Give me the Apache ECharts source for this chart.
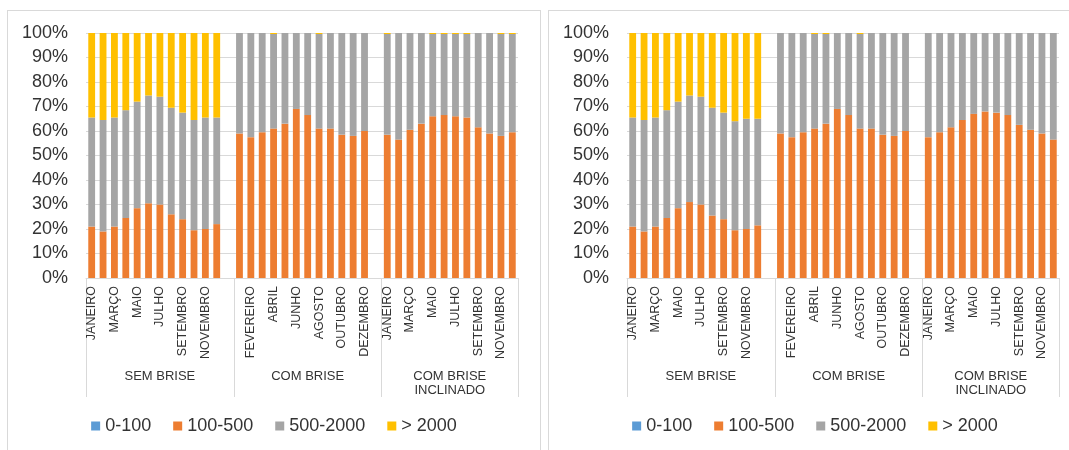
<!DOCTYPE html>
<html>
<head>
<meta charset="utf-8">
<script src="https://cdn.jsdelivr.net/npm/echarts@6/dist/echarts.min.js"></script>
<style>
  html, body { margin: 0; padding: 0; background: #ffffff; width: 1069px; height: 450px; overflow: hidden; }
  .panel { position: absolute; top: 10px; width: 534px; height: 450px; box-sizing: border-box; border: 1px solid #d9d9d9; background: #fff; }
  .chart { position: absolute; left: 0; top: 0; width: 532px; height: 448px; }
</style>
</head>
<body>
<div class="panel" style="left:7px"><div id="c1" class="chart"></div></div>
<div class="panel" style="left:548px"><div id="c2" class="chart"></div></div>
<script>
// ---- Data ----
const months = ["JANEIRO","FEVEREIRO","MARÇO","ABRIL","MAIO","JUNHO","JULHO","AGOSTO","SETEMBRO","OUTUBRO","NOVEMBRO","DEZEMBRO"];
const groups = ["SEM BRISE", "COM BRISE", "COM BRISE\nINCLINADO"];
const seriesNames = ["0-100", "100-500", "500-2000", "> 2000"];
const yTicks = [0, 10, 20, 30, 40, 50, 60, 70, 80, 90, 100];

// Left chart
const L_semBrise_0_100    = [0,0,0,0,0,0,0,0,0,0,0,0];
const L_semBrise_100_500  = [21, 19, 21, 24.5, 28.5, 30.5, 30, 26, 24, 19.5, 20, 22];
const L_semBrise_500_2000 = [44.5, 45.5, 44.5, 44, 43.5, 44, 44, 43.5, 43.5, 45, 45.5, 43.5];
const L_semBrise_2000     = [34.5, 35.5, 34.5, 31.5, 28, 25.5, 26, 30.5, 32.5, 35.5, 34.5, 34.5];

const L_comBrise_0_100    = [0,0,0,0,0,0,0,0,0,0,0,0];
const L_comBrise_100_500  = [59, 57.5, 59.5, 61, 63, 69, 66.5, 61, 61, 58.5, 58, 60];
const L_comBrise_500_2000 = [41, 42.5, 40.5, 38.6, 37, 31, 33.5, 38.6, 39, 41.5, 42, 40];
const L_comBrise_2000     = [0, 0, 0, 0.4, 0, 0, 0, 0.4, 0, 0, 0, 0];

const L_inclinado_0_100    = [0,0,0,0,0,0,0,0,0,0,0,0];
const L_inclinado_100_500  = [58.5, 56.5, 60.5, 63, 66, 66.5, 66, 65.5, 61.5, 59, 58, 59.5];
const L_inclinado_500_2000 = [41.1, 43.5, 39.5, 37, 33.6, 33.1, 33.6, 34.1, 38.5, 41, 41.6, 40.1];
const L_inclinado_2000     = [0.4, 0, 0, 0, 0.4, 0.4, 0.4, 0.4, 0, 0, 0.4, 0.4];

// Right chart
const R_semBrise_0_100    = [0,0,0,0,0,0,0,0,0,0,0,0];
const R_semBrise_100_500  = [21, 19, 21, 24.5, 28.5, 31, 30, 25.5, 24, 19.5, 20, 21.5];
const R_semBrise_500_2000 = [44.5, 45.5, 44.5, 44, 43.5, 43.5, 44, 44, 43.5, 44.5, 45, 43.5];
const R_semBrise_2000     = [34.5, 35.5, 34.5, 31.5, 28, 25.5, 26, 30.5, 32.5, 36, 35, 35];

const R_comBrise_0_100    = [0,0,0,0,0,0,0,0,0,0,0,0];
const R_comBrise_100_500  = [59, 57.5, 59.5, 61, 63, 69, 66.5, 61, 61, 58.5, 58, 60];
const R_comBrise_500_2000 = [41, 42.5, 40.5, 38.6, 36.6, 31, 33.5, 38.6, 39, 41.5, 42, 40];
const R_comBrise_2000     = [0, 0, 0, 0.4, 0.4, 0, 0, 0.4, 0, 0, 0, 0];

const R_inclinado_0_100    = [0,0,0,0,0,0,0,0,0,0,0,0];
const R_inclinado_100_500  = [57.5, 59.5, 61.5, 64.5, 67, 68, 67.5, 66.5, 62.5, 60.5, 59, 56.5];
const R_inclinado_500_2000 = [42.5, 40.5, 38.5, 35.5, 33, 32, 32.5, 33.5, 37.5, 39.5, 41, 43.5];
const R_inclinado_2000     = [0, 0, 0, 0, 0, 0, 0, 0, 0, 0, 0, 0];

const colors = ["#5B9BD5", "#ED7D31", "#A5A5A5", "#FFC000"];
const FONT = "'Liberation Sans', Arial, sans-serif";

// 38 categories: 12 months + blank + 12 months + blank + 12 months
const categories = [].concat(months, [""], months, [""], months);
function joinGroups(a, b, c) { return [].concat(a, [null], b, [null], c); }

// secondary (group) axis: 77 boundary points
const groupAxisData = [];
for (let k = 0; k <= 76; k++) groupAxisData.push("");
groupAxisData[13] = groups[0];
groupAxisData[39] = groups[1];
groupAxisData[64] = groups[2];
const groupTickIdx = [0, 26, 52, 76];

function build(el, d) {
  const chart = echarts.init(document.getElementById(el), null, { renderer: 'canvas' });
  const series = seriesNames.map((name, i) => ({
    name: name,
    type: 'bar',
    stack: 'total',
    barWidth: '60%',
    itemStyle: { color: colors[i] },
    emphasis: { disabled: true },
    data: d[i]
  }));
  chart.setOption({
    animation: false,
    textStyle: { fontFamily: FONT },
    grid: { left: 78, top: 22, width: 432, height: 245, containLabel: false },
    legend: {
      data: seriesNames,
      left: 'center',
      top: 406,
      icon: 'rect',
      itemWidth: 9,
      itemHeight: 9,
      itemGap: 22,
      padding: 0,
      textStyle: { fontSize: 18, color: '#333', fontFamily: FONT }
    },
    xAxis: [
      {
        type: 'category',
        data: categories,
        boundaryGap: true,
        axisLine: { show: true, lineStyle: { color: '#d9d9d9' } },
        axisTick: { show: false },
        axisLabel: {
          rotate: 90, fontSize: 12.5, color: '#333', margin: 8,
          interval: function (i) { return i % 2 === 0; },
          fontFamily: FONT
        }
      },
      {
        type: 'category',
        position: 'bottom',
        data: groupAxisData,
        boundaryGap: false,
        axisLine: { show: false },
        axisTick: {
          show: true, length: 119, inside: false,
          interval: function (i) { return groupTickIdx.indexOf(i) >= 0; },
          lineStyle: { color: '#d9d9d9' }
        },
        axisLabel: {
          interval: 0, margin: 91, fontSize: 13, lineHeight: 14, color: '#333',
          align: 'center', verticalAlign: 'top', fontFamily: FONT
        },
        splitLine: { show: false }
      }
    ],
    yAxis: {
      type: 'value',
      min: yTicks[0], max: yTicks[yTicks.length - 1], interval: 10,
      axisLine: { show: false },
      axisTick: { show: false },
      splitLine: { show: true, lineStyle: { color: '#d9d9d9' } },
      axisLabel: { formatter: '{value}%', fontSize: 18, color: '#333', margin: 18, fontFamily: FONT }
    },
    series: series
  });
}

build('c1', [
  joinGroups(L_semBrise_0_100, L_comBrise_0_100, L_inclinado_0_100),
  joinGroups(L_semBrise_100_500, L_comBrise_100_500, L_inclinado_100_500),
  joinGroups(L_semBrise_500_2000, L_comBrise_500_2000, L_inclinado_500_2000),
  joinGroups(L_semBrise_2000, L_comBrise_2000, L_inclinado_2000)
]);
build('c2', [
  joinGroups(R_semBrise_0_100, R_comBrise_0_100, R_inclinado_0_100),
  joinGroups(R_semBrise_100_500, R_comBrise_100_500, R_inclinado_100_500),
  joinGroups(R_semBrise_500_2000, R_comBrise_500_2000, R_inclinado_500_2000),
  joinGroups(R_semBrise_2000, R_comBrise_2000, R_inclinado_2000)
]);
</script>
</body>
</html>
